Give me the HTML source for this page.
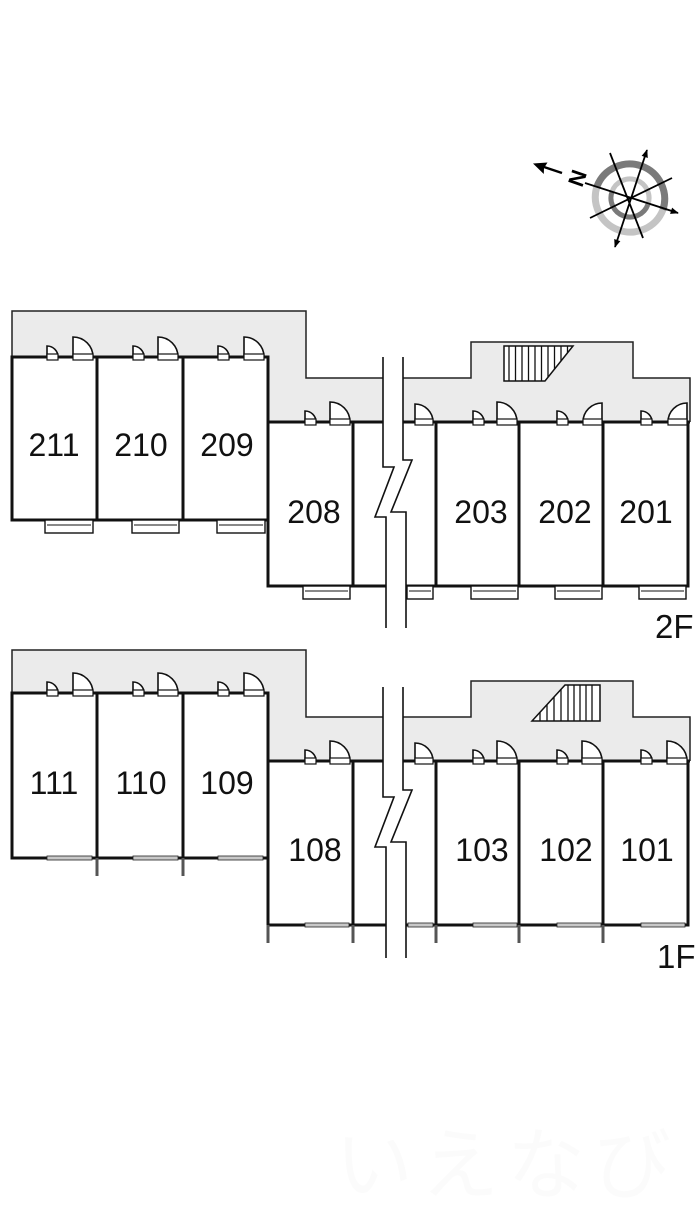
<!DOCTYPE html>
<html><head><meta charset="utf-8"><style>
html,body{margin:0;padding:0;background:#fff;}
svg{display:block;}
.num{font-family:"Liberation Sans","Noto Sans CJK JP",sans-serif;font-size:32px;fill:#111;text-anchor:middle;}
.fl{font-family:"Liberation Sans","Noto Sans CJK JP",sans-serif;font-size:33px;fill:#111;}
</style></head><body>
<svg width="700" height="1208" viewBox="0 0 700 1208" xmlns="http://www.w3.org/2000/svg">
<defs>
<marker id="ah" viewBox="0 0 10 10" refX="9" refY="5" markerWidth="4.5" markerHeight="4.5" orient="auto-start-reverse"><path d="M0,1 L10,5 L0,9 Z" fill="#000"/></marker>
<g id="ds"><path d="M0 0 V-11 A11 11 0 0 1 11 0 Z" fill="#fff" stroke="#111" stroke-width="1.6"/><rect x="0" y="-3" width="11" height="6" fill="#fff" stroke="#111" stroke-width="1.2"/></g>
<g id="db"><path d="M0 0 V-20 A20 20 0 0 1 20 0 Z" fill="#fff" stroke="#111" stroke-width="1.6"/><rect x="0" y="-3" width="20" height="6" fill="#fff" stroke="#111" stroke-width="1.2"/></g>
<g id="dm"><path d="M0 0 V-19 A19 19 0 0 0 -19 0 Z" fill="#fff" stroke="#111" stroke-width="1.6"/><rect x="-19" y="-3" width="19" height="6" fill="#fff" stroke="#111" stroke-width="1.2"/></g>
<g id="d4"><path d="M0 0 V-18 A18 18 0 0 1 18 0 Z" fill="#fff" stroke="#111" stroke-width="1.6"/><rect x="0" y="-3" width="18" height="6" fill="#fff" stroke="#111" stroke-width="1.2"/></g>
</defs>

<!-- Compass -->
<g>
<path d="M597.1,186.1 A35,35 0 0 1 662.9,209.9" fill="none" stroke="#7a7a7a" stroke-width="7"/>
<path d="M662.9,209.9 A35,35 0 0 1 597.1,186.1" fill="none" stroke="#c4c4c4" stroke-width="7"/>
<path d="M612.1,191.5 A19,19 0 0 1 647.9,204.5" fill="none" stroke="#c4c4c4" stroke-width="5"/>
<path d="M647.9,204.5 A19,19 0 0 1 612.1,191.5" fill="none" stroke="#7a7a7a" stroke-width="5"/>
<line x1="615" y1="247" x2="647" y2="150" stroke="#000" stroke-width="1.8" marker-start="url(#ah)" marker-end="url(#ah)"/>
<line x1="590" y1="218" x2="672" y2="178" stroke="#000" stroke-width="1.8"/>
<line x1="585" y1="183" x2="678" y2="213" stroke="#000" stroke-width="1.8" marker-end="url(#ah)"/>
<line x1="610" y1="153" x2="643" y2="238" stroke="#000" stroke-width="1.8"/>
<line x1="562" y1="173" x2="544" y2="167" stroke="#000" stroke-width="2.5"/>
<path d="M533,163.5 L547.5,162.5 L544,168 L543.8,174 Z" fill="#000"/>
<text x="577" y="186" transform="rotate(-71 577 178)" font-family="Liberation Sans, sans-serif" font-weight="bold" font-size="22" fill="#000" text-anchor="middle">N</text>
</g>

<!-- ===== 2F ===== -->
<polygon points="12,311 306,311 306,378 471,378 471,342 633,342 633,378 690,378 690,422 268,422 268,357 12,357" fill="#ebebeb"/>
<polyline points="12,357 12,311 306,311 306,378 471,378 471,342 633,342 633,378 690,378 690,422" fill="none" stroke="#222" stroke-width="1.5"/>
<!-- stair 2F -->
<polygon points="504,346 573,346 545,381 504,381" fill="#fff" stroke="#111" stroke-width="1.5"/>
<g stroke="#111" stroke-width="1.3">
<line x1="509" y1="346" x2="509" y2="381"/><line x1="515.5" y1="346" x2="515.5" y2="381"/><line x1="522" y1="346" x2="522" y2="381"/><line x1="528.5" y1="346" x2="528.5" y2="381"/><line x1="535" y1="346" x2="535" y2="381"/><line x1="541.5" y1="346" x2="541.5" y2="381"/>
<line x1="548" y1="346" x2="548" y2="377"/><line x1="554.5" y1="346" x2="554.5" y2="369"/><line x1="561" y1="346" x2="561" y2="361"/><line x1="567.5" y1="346" x2="567.5" y2="353"/>
</g>
<!-- walls 2F -->
<g stroke="#111" stroke-width="3" fill="none">
<rect x="12" y="357" width="256" height="163"/>
<line x1="97" y1="357" x2="97" y2="520"/><line x1="183" y1="357" x2="183" y2="520"/>
<line x1="268" y1="357" x2="268" y2="587"/>
<line x1="268" y1="422" x2="690" y2="422"/>
<line x1="266.5" y1="586" x2="689.5" y2="586"/>
<line x1="353" y1="422" x2="353" y2="586"/><line x1="436" y1="422" x2="436" y2="586"/><line x1="519" y1="422" x2="519" y2="586"/><line x1="603" y1="422" x2="603" y2="586"/><line x1="688" y1="422" x2="688" y2="586"/>
</g>
<!-- windows 2F -->
<g fill="#fff" stroke="#111" stroke-width="1.4">
<rect x="45" y="520" width="48" height="13"/><rect x="132" y="520" width="47" height="13"/><rect x="217" y="520" width="48" height="13"/>
<rect x="303" y="586" width="47" height="13"/><rect x="407" y="586" width="26" height="13"/><rect x="471" y="586" width="47" height="13"/><rect x="555" y="586" width="47" height="13"/><rect x="639" y="586" width="47" height="13"/>
</g>
<g stroke="#111" stroke-width="1">
<line x1="47" y1="525" x2="91" y2="525"/><line x1="134" y1="525" x2="177" y2="525"/><line x1="219" y1="525" x2="263" y2="525"/>
<line x1="305" y1="591" x2="348" y2="591"/><line x1="409" y1="591" x2="431" y2="591"/><line x1="473" y1="591" x2="516" y2="591"/><line x1="557" y1="591" x2="600" y2="591"/><line x1="641" y1="591" x2="684" y2="591"/>
</g>
<!-- doors 2F -->
<use href="#ds" x="47" y="357"/><use href="#db" x="73" y="357"/>
<use href="#ds" x="133" y="357"/><use href="#db" x="158" y="357"/>
<use href="#ds" x="218" y="357"/><use href="#db" x="244" y="357"/>
<use href="#ds" x="305" y="422"/><use href="#db" x="330" y="422"/>
<use href="#d4" x="415" y="422"/>
<use href="#ds" x="473" y="422"/><use href="#db" x="497" y="422"/>
<use href="#ds" x="557" y="422"/><use href="#dm" x="602" y="422"/>
<use href="#ds" x="641" y="422"/><use href="#dm" x="687" y="422"/>
<!-- break 2F -->
<polygon points="383,350 403,350 403,460 412,460 391,512 406,512 406,632 386,632 386,517 375,517 394,467 383,467" fill="#fff"/>
<polyline points="383,357 383,467 394,467 375,517 386,517 386,628" fill="none" stroke="#111" stroke-width="1.6"/>
<polyline points="403,357 403,460 412,460 391,512 406,512 406,628" fill="none" stroke="#111" stroke-width="1.6"/>
<!-- labels 2F -->
<text class="num" x="54" y="456">211</text>
<text class="num" x="141" y="456">210</text>
<text class="num" x="227" y="456">209</text>
<text class="num" x="314" y="523">208</text>
<text class="num" x="481" y="523">203</text>
<text class="num" x="565" y="523">202</text>
<text class="num" x="646" y="523">201</text>
<text class="fl" x="655" y="638">2F</text>

<!-- ===== 1F ===== -->
<polygon points="12,650 306,650 306,717 471,717 471,681 633,681 633,717 690,717 690,761 268,761 268,693 12,693" fill="#ebebeb"/>
<polyline points="12,693 12,650 306,650 306,717 471,717 471,681 633,681 633,717 690,717 690,761" fill="none" stroke="#222" stroke-width="1.5"/>
<!-- stair 1F -->
<polygon points="565,685 600,685 600,721 532,721" fill="#fff" stroke="#111" stroke-width="1.5"/>
<g stroke="#111" stroke-width="1.3">
<line x1="568" y1="685" x2="568" y2="721"/><line x1="574" y1="685" x2="574" y2="721"/><line x1="580" y1="685" x2="580" y2="721"/><line x1="586" y1="685" x2="586" y2="721"/><line x1="592" y1="685" x2="592" y2="721"/>
<line x1="561" y1="689" x2="561" y2="721"/><line x1="554" y1="697" x2="554" y2="721"/><line x1="547" y1="705" x2="547" y2="721"/><line x1="540" y1="712" x2="540" y2="721"/>
</g>
<!-- walls 1F -->
<g stroke="#111" stroke-width="3" fill="none">
<rect x="12" y="693" width="256" height="165"/>
<line x1="97" y1="693" x2="97" y2="858"/><line x1="183" y1="693" x2="183" y2="858"/>
<line x1="268" y1="693" x2="268" y2="926"/>
<line x1="268" y1="761" x2="690" y2="761"/>
<line x1="266.5" y1="925" x2="689.5" y2="925"/>
<line x1="353" y1="761" x2="353" y2="925"/><line x1="436" y1="761" x2="436" y2="925"/><line x1="519" y1="761" x2="519" y2="925"/><line x1="603" y1="761" x2="603" y2="925"/><line x1="688" y1="761" x2="688" y2="925"/>
</g>
<!-- stubs 1F -->
<g fill="#555">
<rect x="95.5" y="858" width="3" height="18"/><rect x="181.5" y="858" width="3" height="18"/>
<rect x="266.5" y="925" width="3" height="18"/><rect x="351.5" y="925" width="3" height="18"/><rect x="434.5" y="925" width="3" height="18"/><rect x="517.5" y="925" width="3" height="18"/><rect x="601.5" y="925" width="3" height="18"/>
</g>
<!-- windows 1F (in wall) -->
<g fill="#c8c8c8" stroke="#222" stroke-width="0.8">
<rect x="47" y="856" width="45" height="4"/><rect x="133" y="856" width="45" height="4"/><rect x="218" y="856" width="45" height="4"/>
<rect x="305" y="923" width="44" height="4"/><rect x="408" y="923" width="25" height="4"/><rect x="473" y="923" width="44" height="4"/><rect x="557" y="923" width="44" height="4"/><rect x="641" y="923" width="44" height="4"/>
</g>
<!-- doors 1F -->
<use href="#ds" x="47" y="693"/><use href="#db" x="73" y="693"/>
<use href="#ds" x="133" y="693"/><use href="#db" x="158" y="693"/>
<use href="#ds" x="218" y="693"/><use href="#db" x="244" y="693"/>
<use href="#ds" x="305" y="761"/><use href="#db" x="330" y="761"/>
<use href="#d4" x="415" y="761"/>
<use href="#ds" x="473" y="761"/><use href="#db" x="497" y="761"/>
<use href="#ds" x="557" y="761"/><use href="#db" x="582" y="761"/>
<use href="#ds" x="641" y="761"/><use href="#db" x="667" y="761"/>
<!-- break 1F -->
<polygon points="383,680 403,680 403,790 412,790 391,842 406,842 406,962 386,962 386,847 375,847 394,797 383,797" fill="#fff"/>
<polyline points="383,687 383,797 394,797 375,847 386,847 386,958" fill="none" stroke="#111" stroke-width="1.6"/>
<polyline points="403,687 403,790 412,790 391,842 406,842 406,958" fill="none" stroke="#111" stroke-width="1.6"/>
<!-- labels 1F -->
<text class="num" x="54" y="794">111</text>
<text class="num" x="141" y="794">110</text>
<text class="num" x="227" y="794">109</text>
<text class="num" x="315" y="861">108</text>
<text class="num" x="482" y="861">103</text>
<text class="num" x="566" y="861">102</text>
<text class="num" x="647" y="861">101</text>
<text class="fl" x="657" y="968">1F</text>

<!-- faint watermark -->
<text x="335" y="1192" font-family="Liberation Sans, 'Noto Sans CJK JP', sans-serif" font-size="78" fill="#fbfbfb" letter-spacing="8">いえなび</text>
</svg>
</body></html>
